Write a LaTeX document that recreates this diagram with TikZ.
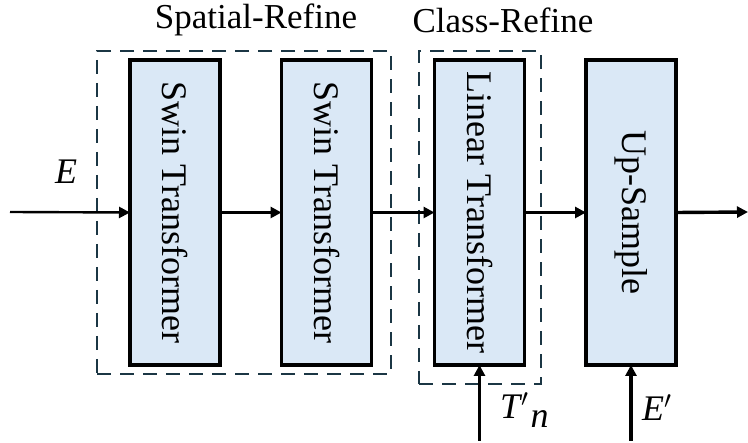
\documentclass[tikz,border=0pt]{standalone}
\usepackage{fontspec}
\setmainfont{Liberation Serif}
\usetikzlibrary{arrows.meta}
\definecolor{boxfill}{HTML}{DAE8F6}
\definecolor{dashcol}{HTML}{1B3644}
\tikzset{
  block/.style={draw=black, line width=3.6pt, fill=boxfill, minimum width=90pt,
    minimum height=305pt, inner sep=0pt, outer sep=0pt,
    font=\fontsize{36}{40}\selectfont},
  group/.style={draw=dashcol, line width=2.4pt, dash pattern=on 14pt off 9pt,
    inner sep=0pt, outer sep=0pt},
  flow/.style={line width=3.4pt, -{Triangle[length=11pt,width=11pt]}},
  thinflow/.style={line width=2.4pt, -{Triangle[length=11pt,width=11pt]}},
  title/.style={font=\fontsize{35}{40}\selectfont, inner sep=0pt},
  sym/.style={font=\fontsize{36}{40}\selectfont\itshape, inner sep=0pt}
}
\begin{document}
\begin{tikzpicture}[x=1pt, y=-1pt]
  \useasboundingbox (0,0) rectangle (748,443);

  % dashed groups
  \node[group, minimum width=294pt, minimum height=323pt] (spatial) at (244,212.5) {};
  \node[group, minimum width=122pt, minimum height=333pt] (class) at (480,217.5) {};
  \node[title] (spatialtitle) at (256,20) {Spatial-Refine};
  \node[title] (classtitle) at (503,20) {Class-Refine};

  % processing blocks
  \node[block] (swina) at (175,212.5) {\rotatebox{-90}{Swin Transformer}};
  \node[block] (swinb) at (326.5,212.5) {\rotatebox{-90}{Swin Transformer}};
  \node[block] (linear) at (479.5,212.5) {\rotatebox{-90}{Linear Transformer}};
  \node[block] (upsample) at (631,212.5) {\rotatebox{-90}{Up-Sample}};

  % free ends
  \coordinate (in) at (10,212);
  \coordinate (out) at (748,212);
  \coordinate (tin) at (479.5,441);
  \coordinate (ein) at (631,441);

  % connectors
  \draw[thinflow] (in) -- (swina.west);
  \draw[flow] (swina.east) -- (swinb.west);
  \draw[flow] (swinb.east) -- (linear.west);
  \draw[flow] (linear.east) -- (upsample.west);
  \draw[flow] (upsample.east) -- (out);
  \draw[flow] (tin) -- (linear.south);
  \draw[flow] (ein) -- (upsample.south);

  % labels
  \node[sym] (elabel) at (66,172) {E};
  \node[sym, anchor=west] (tlabel) at (500,410) {T\kern1pt\raisebox{3pt}{$'$}\kern2pt\raisebox{-9pt}{n}};
  \node[sym, anchor=west] (eplabel) at (642,408) {E\raisebox{3pt}{$'$}};
\end{tikzpicture}
\end{document}
